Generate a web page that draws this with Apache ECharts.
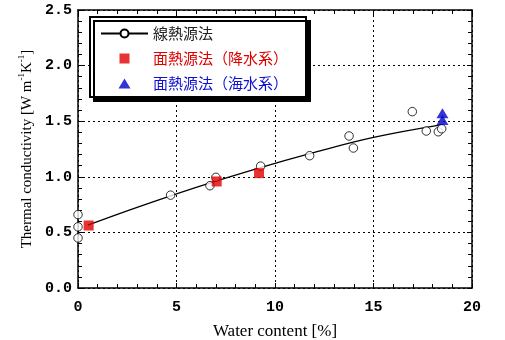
<!DOCTYPE html>
<html>
<head>
<meta charset="utf-8">
<script src="https://cdn.jsdelivr.net/npm/echarts@6/dist/echarts.min.js"></script>
<style>html,body{margin:0;padding:0;background:#fff}#c{width:505px;height:340px}</style>
</head>
<body>
<div id="c"></div>
<script>
// Fitted curve (line heat source)
const lineX = [0.5, 3, 6, 9, 12, 15, 18.5];
const lineY = [0.565, 0.725, 0.905, 1.07, 1.22, 1.355, 1.47];
// Line heat source measurements (open circles)
const circX = [0, 0, 0, 4.7, 6.7, 7.0, 9.27, 11.76, 13.76, 13.98, 16.97, 17.68, 18.29, 18.46];
const circY = [0.66, 0.55, 0.45, 0.835, 0.92, 0.995, 1.096, 1.19, 1.367, 1.259, 1.586, 1.412, 1.405, 1.432];
// Plane heat source (rain water)
const sqX = [0.54, 7.04, 9.19];
const sqY = [0.562, 0.958, 1.033];
// Plane heat source (sea water)
const triX = [18.5, 18.5];
const triY = [1.571, 1.511];

const seriesNames = ['線熱源法', '面熱源法（降水系）', '面熱源法（海水系）'];
const xTicks = [0, 5, 10, 15, 20];
const yTicks = [0, 0.5, 1.0, 1.5, 2.0, 2.5];

const zip = (a, b) => a.map((v, i) => [v, b[i]]);

const chart = echarts.init(document.getElementById('c'), null, {renderer: 'canvas'});

const tickFont = {fontFamily: 'Liberation Mono', fontWeight: 'bold', fontSize: 15, color: '#000'};
function axisCommon(showLabel) {
  return {
    axisLine: {show: true, onZero: false, lineStyle: {color: '#000', width: 1.5}},
    axisTick: {show: true, inside: true, length: 5, lineStyle: {color: '#000', width: 1}},
    minorTick: {show: true, splitNumber: 5, length: 4, lineStyle: {color: '#000', width: 1}},
    splitLine: {show: false},
    axisLabel: Object.assign({show: showLabel}, tickFont)
  };
}

const option = {
  animation: false,
  backgroundColor: '#fff',
  grid: {left: 78, right: 33, top: 10, bottom: 52, containLabel: false, outerBoundsMode: 'none'},
  xAxis: [
    Object.assign(axisCommon(true), {
      type: 'value', position: 'bottom', min: xTicks[0], max: xTicks[xTicks.length - 1], interval: 5,
      name: 'Water content [%]', nameLocation: 'middle', nameGap: 35,
      nameTextStyle: {fontFamily: 'Liberation Serif', fontSize: 17, color: '#000'},
      axisLabel: Object.assign({show: true, margin: 12}, tickFont),
      splitLine: {show: true, lineStyle: {color: '#000', type: [2, 3], width: 1}}
    }),
    Object.assign(axisCommon(false), {
      type: 'value', position: 'top', min: 0, max: 20, interval: 5
    })
  ],
  yAxis: [
    Object.assign(axisCommon(true), {
      type: 'value', position: 'left', min: yTicks[0], max: yTicks[yTicks.length - 1], interval: 0.5,
      name: '{n|Thermal conductivity [W m}{s|-1}{n|K}{s|-1}{n|]}', nameLocation: 'middle', nameGap: 34,
      nameTextStyle: {
        fontFamily: 'Liberation Serif', fontSize: 15, color: '#000',
        rich: {
          n: {fontFamily: 'Liberation Serif', fontSize: 15, color: '#000', lineHeight: 18},
          s: {fontFamily: 'Liberation Serif', fontSize: 9, color: '#000', verticalAlign: 'top', lineHeight: 10}
        }
      },
      axisLabel: Object.assign({show: true, margin: 6, formatter: v => v.toFixed(1)}, tickFont),
      splitLine: {show: true, lineStyle: {color: '#000', type: [2, 3], width: 1}}
    }),
    Object.assign(axisCommon(false), {
      type: 'value', position: 'right', min: 0, max: 2.5, interval: 0.5
    })
  ],
  legend: {
    orient: 'vertical', left: 90, top: 17,
    padding: [9, 18, 6, 10],
    itemWidth: 47, itemHeight: 10, itemGap: 10,
    symbolKeepAspect: true,
    backgroundColor: '#fff', borderColor: '#000', borderWidth: 2, borderRadius: 0,
    shadowColor: '#000', shadowOffsetX: 4, shadowOffsetY: 4, shadowBlur: 0,
    textStyle: {fontFamily: 'Noto Sans CJK JP', fontSize: 15},
    data: [
      {name: seriesNames[0], textStyle: {color: '#222'}},
      {name: seriesNames[1], icon: 'path://M0,0H10V10H0Z', textStyle: {color: '#e00000'}},
      {name: seriesNames[2], icon: 'path://M6,0L12,10H0Z', textStyle: {color: '#1010d0'}}
    ]
  },
  series: [
    {
      name: seriesNames[0], type: 'line', smooth: 0.4, data: zip(lineX, lineY),
      symbol: 'emptyCircle', showSymbol: false, symbolSize: 8,
      lineStyle: {color: '#000', width: 1.3},
      itemStyle: {color: '#000'},
      z: 3
    },
    {
      name: seriesNames[0], type: 'scatter', data: zip(circX, circY),
      symbol: 'circle', symbolSize: 8.5, clip: false,
      itemStyle: {color: '#fff', borderColor: '#000', borderWidth: 1},
      z: 4
    },
    {
      name: seriesNames[1], type: 'scatter', data: zip(sqX, sqY),
      symbol: 'rect', symbolSize: 10, clip: false,
      itemStyle: {color: '#e00000'},
      z: 5
    },
    {
      name: seriesNames[2], type: 'scatter', data: zip(triX, triY),
      symbol: 'triangle', symbolSize: [12, 10], clip: false,
      itemStyle: {color: '#0000cc'},
      z: 5
    }
  ]
};
chart.setOption(option);
</script>
</body>
</html>
